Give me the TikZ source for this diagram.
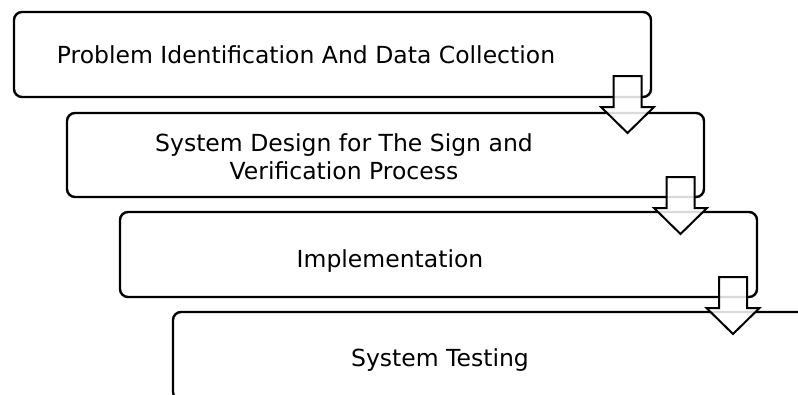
\documentclass[tikz,border=0pt]{standalone}
\usepackage{fontspec}
\setmainfont{DejaVu Sans}
\begin{document}
\begin{tikzpicture}[x=1pt,y=-1pt,
  stagebox/.style={draw=black, line width=2.4pt, rounded corners=8pt, fill=white},
  stagetext/.style={font=\fontsize{23.5}{28}\selectfont, align=center, inner sep=0pt, anchor=base},
  flowarrow/.style={draw=black, line width=2pt, fill=white, fill opacity=0.85, line join=miter}]
\useasboundingbox (0,0) rectangle (798,394);
\clip (0,0) rectangle (798,394);
% boxes
\draw[stagebox] (14,12) rectangle (651,97);
\coordinate (b1) at (14,12);
\draw[stagebox] (67,113) rectangle (704,197);
\coordinate (b2) at (67,113);
\draw[stagebox] (120,212) rectangle (757,297);
\coordinate (b3) at (120,212);
\draw[stagebox] (173,312) rectangle (812,400);
\coordinate (b4) at (173,312);
% texts
\node[stagetext] (t1) at (306,63) {Problem Identification And Data Collection};
\node[stagetext] (t2) at (344,179) {System Design for The Sign and\\Verification Process};
\node[stagetext] (t3) at (390,267) {Implementation};
\node[stagetext] (t4) at (440,366) {System Testing};
% block arrows
\foreach \n/\cx/\ty in {a1/627.5/76, a2/680.5/177, a3/733/277}{
  \coordinate (\n) at (\cx,\ty);
  \draw[flowarrow] ([xshift=-14pt]\n) -- ([xshift=14pt]\n)
     -- ([xshift=14pt,yshift=-31pt]\n) -- ([xshift=26.5pt,yshift=-31pt]\n)
     -- ([yshift=-57pt]\n) -- ([xshift=-26.5pt,yshift=-31pt]\n)
     -- ([xshift=-14pt,yshift=-31pt]\n) -- cycle;
}
\end{tikzpicture}
\end{document}
